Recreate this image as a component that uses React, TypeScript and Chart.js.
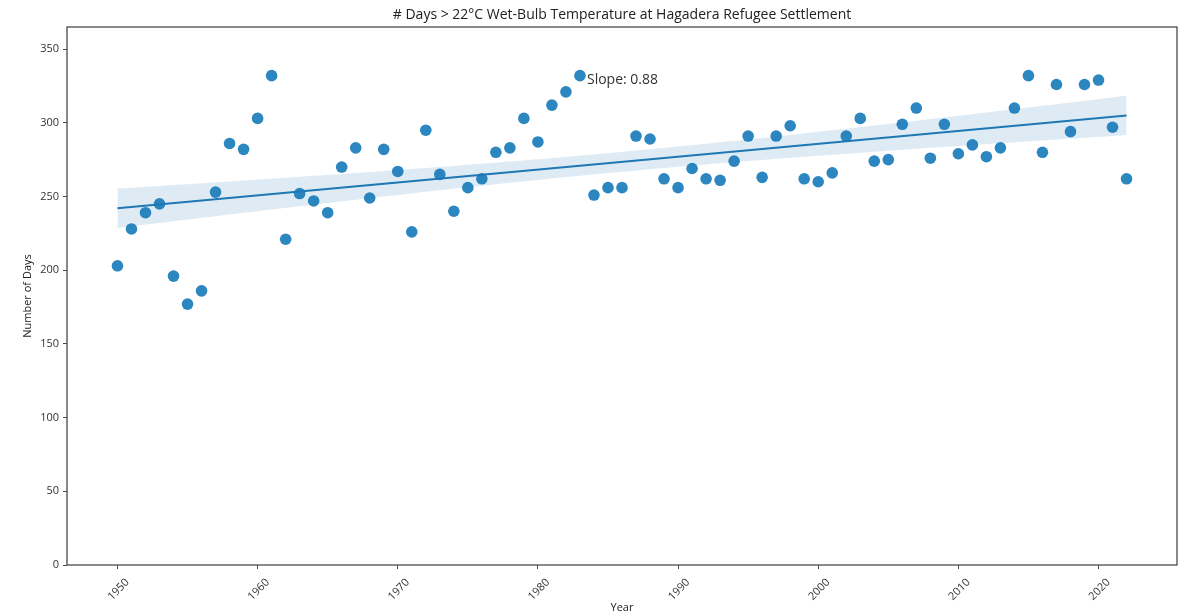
import React, { useEffect, useRef } from 'react';
import { Chart, registerables } from 'chart.js';

Chart.register(...registerables);

const years = [
  1950, 1951, 1952, 1953, 1954, 1955, 1956, 1957, 1958, 1959,
  1960, 1961, 1962, 1963, 1964, 1965, 1966, 1967, 1968, 1969,
  1970, 1971, 1972, 1973, 1974, 1975, 1976, 1977, 1978, 1979,
  1980, 1981, 1982, 1983, 1984, 1985, 1986, 1987, 1988, 1989,
  1990, 1991, 1992, 1993, 1994, 1995, 1996, 1997, 1998, 1999,
  2000, 2001, 2002, 2003, 2004, 2005, 2006, 2007, 2008, 2009,
  2010, 2011, 2012, 2013, 2014, 2015, 2016, 2017, 2018, 2019,
  2020, 2021, 2022,
];

const days = [
  203, 228, 239, 245, 196, 177, 186, 253, 286, 282,
  303, 332, 221, 252, 247, 239, 270, 283, 249, 282,
  267, 226, 295, 265, 240, 256, 262, 280, 283, 303,
  287, 312, 321, 332, 251, 256, 256, 291, 289, 262,
  256, 269, 262, 261, 274, 291, 263, 291, 298, 262,
  260, 266, 291, 303, 274, 275, 299, 310, 276, 299,
  279, 285, 277, 283, 310, 332, 280, 326, 294, 326,
  329, 297, 262,
];

const xTickValues = [1950, 1960, 1970, 1980, 1990, 2000, 2010, 2020];
const yTickValues = [0, 50, 100, 150, 200, 250, 300, 350];

const TITLE = '# Days > 22°C Wet-Bulb Temperature at Hagadera Refugee Settlement';
const X_TITLE = 'Year';
const Y_TITLE = 'Number of Days';
const SLOPE_LABEL = 'Slope: 0.88';
const SLOPE_LABEL_X = 1983;
const SLOPE_LABEL_Y = 329;

const X_MIN = 1946.4;
const X_MAX = 2025.6;
const Y_MIN = 0;
const Y_MAX = 365;

const FONT = '"Open Sans", "Noto Sans", "DejaVu Sans", sans-serif';

function fitLine(xs: number[], ys: number[]) {
  const n = xs.length;
  const mx = xs.reduce((a, b) => a + b, 0) / n;
  const my = ys.reduce((a, b) => a + b, 0) / n;
  let sxx = 0;
  let sxy = 0;
  for (let i = 0; i < n; i++) {
    sxx += (xs[i] - mx) * (xs[i] - mx);
    sxy += (xs[i] - mx) * (ys[i] - my);
  }
  const slope = sxy / sxx;
  const intercept = my - slope * mx;
  let sse = 0;
  for (let i = 0; i < n; i++) {
    const r = ys[i] - (intercept + slope * xs[i]);
    sse += r * r;
  }
  const s = Math.sqrt(sse / (n - 2));
  return { slope, intercept, mx, sxx, s, n };
}

export default function App() {
  const ref = useRef<HTMLCanvasElement>(null);

  useEffect(() => {
    if (!ref.current) return;
    const fit = fitLine(years, days);
    const t = 2.1;
    const x0 = years[0];
    const x1 = years[years.length - 1];
    const samples: number[] = [];
    for (let k = 0; k <= 144; k++) samples.push(x0 + ((x1 - x0) * k) / 144);
    const yhat = (x: number) => fit.intercept + fit.slope * x;
    const half = (x: number) =>
      t * fit.s * Math.sqrt(1 / fit.n + ((x - fit.mx) * (x - fit.mx)) / fit.sxx);

    const framePlugin = {
      id: 'mplFrame',
      afterDraw(chart: any) {
        const { ctx, chartArea: a, scales } = chart;
        ctx.save();
        ctx.strokeStyle = '#4a4a4a';
        ctx.lineWidth = 1.3;
        ctx.strokeRect(a.left, a.top, a.right - a.left, a.bottom - a.top);

        ctx.fillStyle = '#222';
        ctx.textAlign = 'center';
        ctx.textBaseline = 'middle';
        ctx.font = `14px ${FONT}`;
        ctx.fillText(TITLE, (a.left + a.right) / 2, 15.5);

        ctx.font = `11px ${FONT}`;
        ctx.fillText(X_TITLE, (a.left + a.right) / 2, 608);

        ctx.save();
        ctx.translate(28, (a.top + a.bottom) / 2);
        ctx.rotate(-Math.PI / 2);
        ctx.fillText(Y_TITLE, 0, 0);
        ctx.restore();

        ctx.font = `14px ${FONT}`;
        ctx.textAlign = 'left';
        ctx.fillStyle = '#333';
        ctx.fillText(
          SLOPE_LABEL,
          scales.x.getPixelForValue(SLOPE_LABEL_X) + 7,
          scales.y.getPixelForValue(SLOPE_LABEL_Y)
        );
        ctx.restore();
      },
    };

    const chart = new Chart(ref.current, {
      type: 'scatter',
      data: {
        datasets: [
          {
            label: 'ci-upper',
            type: 'line',
            data: samples.map((x) => ({ x, y: yhat(x) + half(x) })),
            borderWidth: 0,
            borderColor: 'rgba(0,0,0,0)',
            pointRadius: 0,
            fill: false,
            order: 2,
          },
          {
            label: 'ci-lower',
            type: 'line',
            data: samples.map((x) => ({ x, y: yhat(x) - half(x) })),
            borderWidth: 0,
            borderColor: 'rgba(0,0,0,0)',
            backgroundColor: 'rgba(31,119,180,0.15)',
            pointRadius: 0,
            fill: '-1',
            order: 2,
          },
          {
            label: 'fit',
            type: 'line',
            data: [
              { x: x0, y: yhat(x0) },
              { x: x1, y: yhat(x1) },
            ],
            borderColor: '#1f77b4',
            borderWidth: 2,
            pointRadius: 0,
            fill: false,
            order: 1,
          },
          {
            label: 'days',
            data: years.map((y, i) => ({ x: y, y: days[i] })),
            backgroundColor: '#2c86c0',
            borderWidth: 0,
            pointRadius: 5.8,
            order: 3,
          },
        ],
      },
      options: {
        responsive: false,
        animation: false,
        devicePixelRatio: 1,
        layout: { padding: { left: 0, right: 10, top: 27, bottom: 0 } },
        plugins: {
          legend: { display: false },
          tooltip: { enabled: false },
          title: { display: false },
        },
        scales: {
          x: {
            type: 'linear',
            min: X_MIN,
            max: X_MAX,
            afterBuildTicks: (s: any) => {
              s.ticks = xTickValues.map((v) => ({ value: v }));
            },
            afterFit: (s: any) => {
              s.height = 51;
            },
            grid: {
              drawOnChartArea: false,
              drawTicks: true,
              tickLength: 4,
              color: '#4a4a4a',
              lineWidth: 1,
            },
            border: { display: false },
            ticks: {
              autoSkip: false,
              minRotation: 45,
              maxRotation: 45,
              padding: 7,
              labelOffset: 10,
              color: '#333',
              font: { family: FONT, size: 11 },
              callback: (v: any) => String(v),
            },
          },
          y: {
            type: 'linear',
            min: Y_MIN,
            max: Y_MAX,
            afterBuildTicks: (s: any) => {
              s.ticks = yTickValues.map((v) => ({ value: v }));
            },
            afterFit: (s: any) => {
              s.width = 67;
            },
            grid: {
              drawOnChartArea: false,
              drawTicks: true,
              tickLength: 4,
              color: '#4a4a4a',
              lineWidth: 1,
            },
            border: { display: false },
            ticks: {
              padding: 4,
              color: '#333',
              font: { family: FONT, size: 11 },
              callback: (v: any) => String(v),
            },
          },
        },
      },
      plugins: [framePlugin],
    } as any);

    return () => chart.destroy();
  }, []);

  return (
    <div
      style={{
        position: 'fixed',
        left: 0,
        top: 0,
        width: 1187,
        height: 616,
        background: '#fff',
      }}
    >
      <canvas ref={ref} width={1187} height={616} style={{ display: 'block' }} />
    </div>
  );
}
